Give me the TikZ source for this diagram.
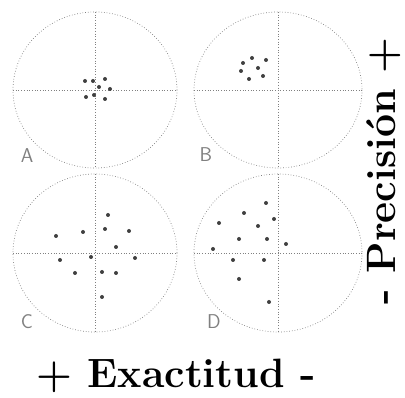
\documentclass[tikz,border=0pt]{standalone}
\usepackage{fontspec}
\usepackage{xcolor}
\usepackage{tikz}
\usetikzlibrary{positioning}

\definecolor{ringgray}{gray}{0.5}
\definecolor{hitgray}{gray}{0.25}

\begin{document}
\begin{tikzpicture}[
    x=1pt, y=-1pt,
    target/.style={draw=ringgray, dotted, line width=0.7pt},
    hit/.style={fill=hitgray},
    lbl/.style={font=\sffamily\fontsize{20}{22}\selectfont, text=gray},
    title/.style={font=\bfseries\fontsize{41}{46}\selectfont, inner sep=0pt}
]
\useasboundingbox (0,0) rectangle (405,398);

% four targets
\foreach \cx/\cy/\rx/\ry in {95/90/82/78, 278/90/84/78, 95/253/82/79, 278/253/84/79} {
    \draw[target] (\cx,\cy) ellipse [x radius=\rx, y radius=\ry];
    \draw[target] (\cx-\rx,\cy) -- (\cx+\rx,\cy);
    \draw[target] (\cx,\cy-\ry) -- (\cx,\cy+\ry);
}

% hits
\foreach \p in {(85,81),(93,81),(105,79),(99,87),(110,89),(86,97),(94,95),(105,99),
                (243,63),(252,58),(266,60),(241,71),(258,68),(249,79),(263,76),
                (108,215),(56,236),(83,232),(105,229),(129,231),(116,247),(60,260),
                (91,257),(135,258),(75,273),(102,272),(116,273),(102,297),
                (266,203),(244,213),(219,223),(274,219),(258,226),(239,239),(267,239),
                (286,244),(213,249),(233,260),(264,260),(239,279),(269,302)}
    \fill[hit] \p circle (2);

% labels
\node[lbl] (labA) at (27,156) {A};
\node[lbl] (labB) at (206,155) {B};
\node[lbl] (labC) at (27,322) {C};
\node[lbl] (labD) at (214,322) {D};

\node[title, anchor=base] (exact) at (176,388) {+ Exactitud -};
\node[title, anchor=base, rotate=90] (prec) at (395,171) {- Precisión +};
\end{tikzpicture}
\end{document}
